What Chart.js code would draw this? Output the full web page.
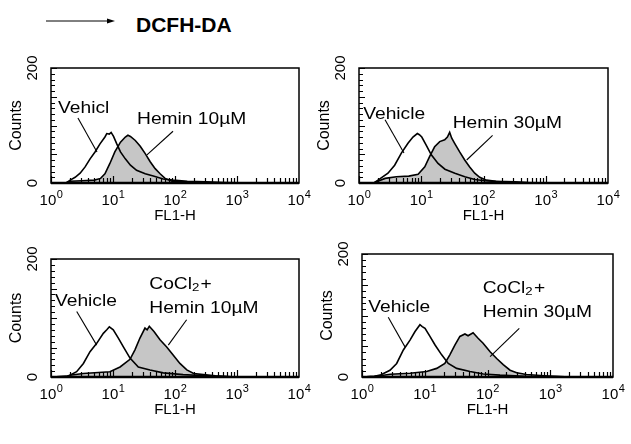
<!DOCTYPE html>
<html>
<head>
<meta charset="utf-8">
<script src="https://cdn.jsdelivr.net/npm/chart.js@4.4.1/dist/chart.umd.min.js"></script>
<style>
  body { margin: 0; background: #fff; width: 631px; height: 444px; overflow: hidden; position: relative; }
  canvas { position: absolute; }
  #head { position: absolute; left: 0; top: 0; }
</style>
</head>
<body>
<svg id="head" width="631" height="45">
  <line x1="46" y1="21" x2="110" y2="21" stroke="#000" stroke-width="1"/>
  <polygon points="107,18.5 115,21 107,23.5" fill="#000"/>
  <text x="136" y="32" font-family="Liberation Sans, Arial, sans-serif" font-weight="bold" font-size="21">DCFH-DA</text>
</svg>
<canvas id="p1"></canvas>
<canvas id="p2"></canvas>
<canvas id="p3"></canvas>
<canvas id="p4"></canvas>
<script>
const FONT = '"Liberation Sans", Arial, sans-serif';

// FL1-H (log) positions and counts
const vehicle1X = [1, 1.8, 2.04, 2.45, 2.95, 3.55, 4.27, 5.13, 6.17, 7.41, 7.94, 8.71, 9.33, 10.2, 11.5, 13.2, 15.8, 19.1, 24, 33.1, 44.7, 64.6, 93.3, 158, 316, 631, 1580, 10000];
const vehicle1Y = [0, 1, 5, 10, 17, 28, 42, 54, 68, 80, 86, 85, 88, 81, 68, 54, 42, 31, 22, 16, 12, 7, 5, 3, 2, 1, 0, 0];
const hemin10X = [1, 1.78, 2.04, 3.16, 5.01, 6.31, 7.41, 8.91, 10.7, 13.2, 15.8, 17.4, 19.1, 22.9, 27.5, 33.1, 39.8, 47.9, 57.5, 69.2, 89.1, 158, 316, 1000, 10000];
const hemin10Y = [0, 1, 3, 4, 5, 8, 16, 34, 54, 71, 80, 83, 81, 74, 64, 51, 37, 25, 16, 8, 3, 2, 1, 0, 0];

const vehicle2X = [1, 1.78, 2.02, 2.92, 3.74, 4.79, 6.12, 7.36, 8.65, 9.33, 10.2, 12.0, 14.5, 18.6, 24, 34.7, 50.1, 72.4, 105, 200, 398, 1580, 10000];
const vehicle2Y = [0, 1, 5, 17, 31, 52, 69, 80, 86, 84, 80, 66, 49, 34, 24, 17, 11, 6, 4, 2, 1, 0, 0];
const hemin30X = [1, 1.78, 2.0, 2.63, 3.98, 6.31, 8.91, 11.4, 13.6, 16.4, 19.8, 23.8, 26.3, 28.6, 30.9, 34.4, 41.4, 49.9, 60, 72.3, 86.9, 111, 158, 316, 501, 1580, 10000];
const hemin30Y = [0, 1, 3, 8, 11, 12, 15, 28, 46, 63, 72, 75, 80, 88, 78, 69, 54, 40, 28, 17, 10, 5, 3, 2, 1, 0, 0];

const vehicle3X = [1, 1.78, 2.02, 2.59, 3.33, 4.26, 5.46, 6.98, 7.94, 8.73, 10.1, 12.2, 14.7, 18.8, 25.6, 39.5, 64.6, 135, 316, 1000, 10000];
const vehicle3Y = [0, 1, 3, 9, 23, 43, 57, 74, 80, 85, 80, 66, 51, 32, 17, 12, 7, 4, 2, 0, 0];
const coHemin10X = [1, 1.78, 2.02, 3.31, 8.91, 13.0, 18.8, 22.6, 27.2, 32.8, 35.5, 38.5, 45.8, 57.3, 73.5, 94, 120, 155, 200, 288, 447, 1000, 10000];
const coHemin10Y = [0, 1, 3, 6, 9, 17, 30, 46, 66, 83, 80, 86, 77, 63, 51, 37, 23, 12, 6, 4, 2, 0, 0];

const vehicle4X = [1, 1.58, 1.94, 2.79, 3.57, 4.56, 5.82, 7.0, 8.39, 9.12, 10.1, 12.1, 14.6, 18.6, 23.7, 32.3, 52.5, 85.7, 158, 398, 1000, 10000];
const vehicle4Y = [0, 1, 3, 11, 22, 44, 60, 74, 85, 82, 79, 66, 52, 36, 22, 14, 9, 5, 3, 1, 0, 0];
const coHemin30X = [1, 1.58, 1.94, 2.82, 5.82, 10.7, 15.5, 20.9, 25.1, 30.2, 36.3, 43.7, 49, 58.9, 70.8, 85.1, 110, 140, 178, 229, 292, 417, 794, 1260, 2000, 10000];
const coHemin30Y = [0, 1, 2, 4.5, 6, 9, 14, 22, 36, 52, 66, 70, 67, 72, 63, 55, 41, 30, 20, 11, 7, 4, 2, 1, 0, 0];

const decades = [0, 1, 2, 3, 4];
const countLabels = [0, 200];

// panel frames (plot area in page pixels) and their labels
const panels = [
  { id: 'p1', l: 51, t: 68, w: 248, h: 115, vx: vehicle1X, vy: vehicle1Y, hx: hemin10X, hy: hemin10Y,
    notes: [{ text: 'Vehicl', x: 1.30, y: 122 }, { text: 'Hemin 10\u00b5M', x: 24.4, y: 103 }],
    leaders: [[2.72, 113, 5.52, 54], [92.9, 90, 35.3, 49]] },
  { id: 'p2', l: 359, t: 68, w: 249, h: 115, vx: vehicle2X, vy: vehicle2Y, hx: hemin30X, hy: hemin30Y,
    notes: [{ text: 'Vehicle', x: 1.17, y: 112 }, { text: 'Hemin 30\u00b5M', x: 32, y: 95 }],
    leaders: [[2.62, 110, 5.28, 52], [140, 83, 53.7, 40]] },
  { id: 'p3', l: 51, t: 259, w: 248, h: 118, vx: vehicle3X, vy: vehicle3Y, hx: coHemin10X, hy: coHemin10Y,
    notes: [{ text: 'Vehicle', x: 1.16, y: 120 }, { text: 'CoCl_2+', x: 38.5, y: 150 }, { text: 'Hemin 10\u00b5M', x: 38.5, y: 108 }],
    leaders: [[2.6, 111, 5.46, 54], [154, 97, 78, 54]] },
  { id: 'p4', l: 362, t: 254, w: 251, h: 123, vx: vehicle4X, vy: vehicle4Y, hx: coHemin30X, hy: coHemin30Y,
    notes: [{ text: 'Vehicle', x: 1.26, y: 106 }, { text: 'CoCl_2+', x: 83.8, y: 136 }, { text: 'Hemin 30\u00b5M', x: 83.8, y: 97 }],
    leaders: [[2.62, 97, 4.84, 49], [321, 79, 110, 33]] }
];

const PAD_L = 51, PAD_T = 15, PAD_R = 20, PAD_B = 45;

function drawNote(ctx, text, px, py) {
  ctx.save();
  ctx.translate(px, py);
  ctx.scale(1.2, 1);
  ctx.textAlign = 'left';
  ctx.textBaseline = 'alphabetic';
  let cx = 0;
  const parts = text.split('_');
  parts.forEach((p, i) => {
    if (i > 0) {
      ctx.font = '11px ' + FONT;
      ctx.fillText(p[0], cx, 2);
      cx += ctx.measureText(p[0]).width + 1;
      p = p.slice(1);
    }
    ctx.font = '16px ' + FONT;
    ctx.fillText(p, cx, 0);
    cx += ctx.measureText(p).width;
  });
  ctx.restore();
}

const decor = {
  id: 'decor',
  afterDraw(chart, args, opts) {
    const { ctx, chartArea: a, scales: { x, y } } = chart;
    ctx.save();
    ctx.strokeStyle = '#000';
    ctx.fillStyle = '#000';
    // frame
    ctx.lineWidth = 1.5;
    ctx.strokeRect(a.left, a.top, a.right - a.left, a.bottom - a.top);
    ctx.lineWidth = 2.5;
    ctx.beginPath(); ctx.moveTo(a.left, a.bottom); ctx.lineTo(a.right, a.bottom); ctx.stroke();
    // inward ticks
    ctx.lineWidth = 1.2;
    ctx.beginPath();
    decades.slice(0, 4).forEach(k => {
      for (let m = 1; m <= 9; m++) {
        const px = Math.round(x.getPixelForValue(m * Math.pow(10, k))) + 0.5;
        ctx.moveTo(px, a.bottom); ctx.lineTo(px, a.bottom - (m === 1 ? 7 : 5));
      }
    });
    for (let c = 0; c <= 200; c += 10) {
      const py = Math.round(y.getPixelForValue(c)) + 0.5;
      ctx.moveTo(a.left, py); ctx.lineTo(a.left + (c % 50 === 0 ? 6 : 4), py);
    }
    ctx.stroke();
    // x tick labels 10^k
    decades.forEach(k => {
      const px = x.getPixelForValue(Math.pow(10, k));
      ctx.font = '15px ' + FONT;
      const wb = ctx.measureText('10').width;
      ctx.font = '11px ' + FONT;
      const we = ctx.measureText(String(k)).width;
      const x0 = px - (wb + we) / 2;
      ctx.textAlign = 'left';
      ctx.textBaseline = 'alphabetic';
      ctx.font = '15px ' + FONT;
      ctx.fillText('10', x0, a.bottom + 22);
      ctx.font = '11px ' + FONT;
      ctx.fillText(String(k), x0 + wb + 0.5, a.bottom + 15);
    });
    // y tick labels, rotated
    countLabels.forEach(c => {
      ctx.save();
      ctx.translate(a.left - 18, y.getPixelForValue(c));
      ctx.rotate(-Math.PI / 2);
      ctx.font = '15px ' + FONT;
      ctx.textAlign = 'center';
      ctx.textBaseline = 'middle';
      ctx.fillText(String(c), 0, 0);
      ctx.restore();
    });
    // annotations
    ctx.lineWidth = 1.1;
    opts.leaders.forEach(([x1, y1, x2, y2]) => {
      ctx.beginPath();
      ctx.moveTo(x.getPixelForValue(x1), y.getPixelForValue(y1));
      ctx.lineTo(x.getPixelForValue(x2), y.getPixelForValue(y2));
      ctx.stroke();
    });
    opts.notes.forEach(n => drawNote(ctx, n.text, x.getPixelForValue(n.x), y.getPixelForValue(n.y)));
    ctx.restore();
  }
};

panels.forEach(p => {
  const cv = document.getElementById(p.id);
  cv.width = p.w + PAD_L + PAD_R;
  cv.height = p.h + PAD_T + PAD_B;
  cv.style.left = (p.l - PAD_L) + 'px';
  cv.style.top = (p.t - PAD_T) + 'px';
  new Chart(cv, {
    type: 'line',
    data: {
      datasets: [
        {
          label: 'Vehicle',
          data: p.vx.map((v, i) => ({ x: v, y: p.vy[i] })),
          borderColor: '#000',
          borderWidth: 1.6,
          fill: false
        },
        {
          label: 'Hemin',
          data: p.hx.map((v, i) => ({ x: v, y: p.hy[i] })),
          borderColor: '#000',
          borderWidth: 1.6,
          backgroundColor: '#c6c6c6',
          fill: 'origin'
        }
      ]
    },
    options: {
      responsive: false,
      animation: false,
      layout: { padding: { top: PAD_T, right: PAD_R, left: 0, bottom: 0 } },
      elements: { point: { radius: 0 }, line: { tension: 0 } },
      plugins: {
        legend: { display: false },
        tooltip: { enabled: false },
        decor: { notes: p.notes, leaders: p.leaders }
      },
      scales: {
        x: {
          type: 'logarithmic', min: 1, max: 10000,
          afterFit: s => { s.height = PAD_B; },
          ticks: { display: false }, grid: { display: false }, border: { display: false },
          title: { display: true, text: 'FL1-H', color: '#000', font: { family: FONT, size: 15 }, padding: { top: 0, bottom: 3 } }
        },
        y: {
          min: 0, max: 200,
          afterFit: s => { s.width = PAD_L; },
          ticks: { display: false }, grid: { display: false }, border: { display: false },
          title: { display: true, text: 'Counts', color: '#000', font: { family: FONT, size: 16 }, padding: { top: 7, bottom: 0 } }
        }
      }
    },
    plugins: [decor]
  });
});
</script>
</body>
</html>
